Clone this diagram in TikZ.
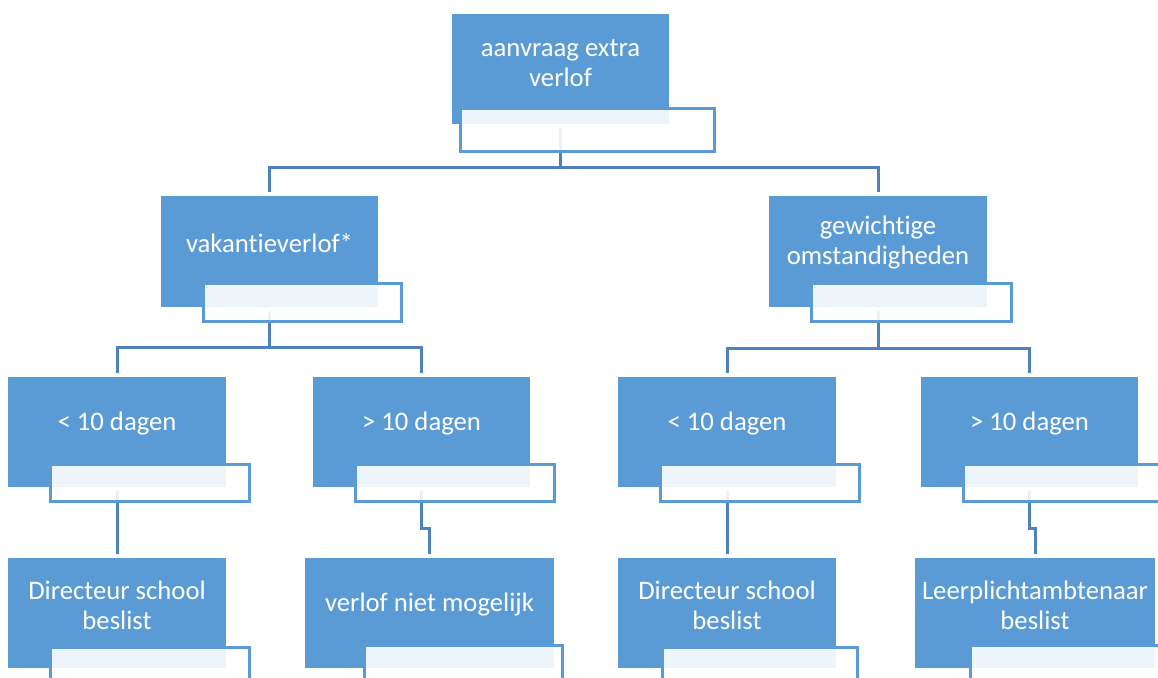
\documentclass[tikz,border=0pt]{standalone}
\usepackage{fontspec}
\setmainfont{Carlito}[Ligatures=NoCommon]
\usetikzlibrary{calc}
\pgfdeclarelayer{bg}
\pgfsetlayers{bg,main}
\definecolor{acc}{HTML}{5B9BD5}
\definecolor{conncol}{HTML}{4F81BD}
\tikzset{
  bluebox/.style={fill=acc, draw=none, inner sep=0pt, outer sep=0pt, anchor=north west},
  whitebox/.style={fill=white, fill opacity=0.9, draw=acc, draw opacity=1, line width=3pt, inner sep=0pt, outer sep=0pt, anchor=north west},
  lbl/.style={text=white, font=\fontsize{26.7}{30}\selectfont, align=center, inner sep=0pt},
  conn/.style={draw=conncol, line width=3pt, shorten <=4pt, shorten >=4pt},
}
\newcommand\smartunit[9]{%
  \node[bluebox, minimum width={(#4-#2)*1pt}, minimum height={(#5-#3)*1pt}] (#1) at (#2,#3) {};
  \node[whitebox, minimum width={(#8-#6-3)*1pt}, minimum height={(#9-#7-3)*1pt}] (#1W) at (#6+1.5,#7+1.5) {};
}
\begin{document}
\begin{tikzpicture}[x=1pt,y=-1pt]
\useasboundingbox (0,0) rectangle (1158,677);
\begin{pgfonlayer}{bg}
\fill[white] (0,0) rectangle (1158,677);
\end{pgfonlayer}
\begin{scope}
\clip (0,0) rectangle (1158,677);
\smartunit{top}{452}{14}{669}{124}{459}{107}{716}{153}
\smartunit{vak}{161}{196}{378}{307}{202}{282}{403}{323}
\smartunit{gew}{769}{196}{987}{307}{810}{282}{1013}{323}
\smartunit{lta}{8}{377}{226}{487}{49}{463}{251}{503}
\smartunit{gta}{313}{377}{530}{487}{354}{463}{556}{503}
\smartunit{ltb}{618}{377}{836}{487}{659}{463}{861}{503}
\smartunit{gtb}{921}{377}{1138}{487}{962}{463}{1164}{503}
\smartunit{dira}{8}{558}{226}{668}{49}{646}{251}{690}
\smartunit{vnm}{305}{558}{554}{668}{363}{644}{564}{690}
\smartunit{dirb}{618}{558}{836}{668}{661}{646}{859}{690}
\smartunit{lpa}{915}{558}{1155}{668}{969}{644}{1170}{690}
\end{scope}
\node[lbl] (topT) at (560.5,63) {aanvraag extra\\verlof};
\node[lbl] (vakT) at (269.5,243) {vakantieverlof*};
\node[lbl] (gewT) at (878,243) {gewichtige\\omstandigheden};
\node[lbl] (ltaT) at (117,424) {< 10 dagen};
\node[lbl] (gtaT) at (421.5,424) {> 10 dagen};
\node[lbl] (ltbT) at (727,424) {< 10 dagen};
\node[lbl] (gtbT) at (1029.5,424) {> 10 dagen};
\node[lbl] (diraT) at (117,605) {Directeur school\\beslist};
\node[lbl] (vnmT) at (429.5,605) {verlof niet mogelijk};
\node[lbl] (dirbT) at (727,605) {Directeur school\\beslist};
\node[lbl] (lpaT) at (1035,605) {Leerplichtambtenaar\\beslist};
\begin{pgfonlayer}{bg}
\draw[conn] (top.south) -- (top.south |- 0,167) -| (vak.north);
\draw[conn, shorten <=0pt] (top.south |- 0,167) -| (gew.north);
\draw[conn] (vak.south) -- (vak.south |- 0,347) -| (lta.north);
\draw[conn, shorten <=0pt] (vak.south |- 0,347) -| (gta.north);
\draw[conn] (gew.south) -- (gew.south |- 0,348) -| (ltb.north);
\draw[conn, shorten <=0pt] (gew.south |- 0,348) -| (gtb.north);
\draw[conn] (lta.south) -- (dira.north);
\draw[conn] (gta.south) -- (gta.south |- 0,528) -| (vnm.north);
\draw[conn] (ltb.south) -- (dirb.north);
\draw[conn] (gtb.south) -- (gtb.south |- 0,528) -| (lpa.north);
\end{pgfonlayer}
\end{tikzpicture}
\end{document}
